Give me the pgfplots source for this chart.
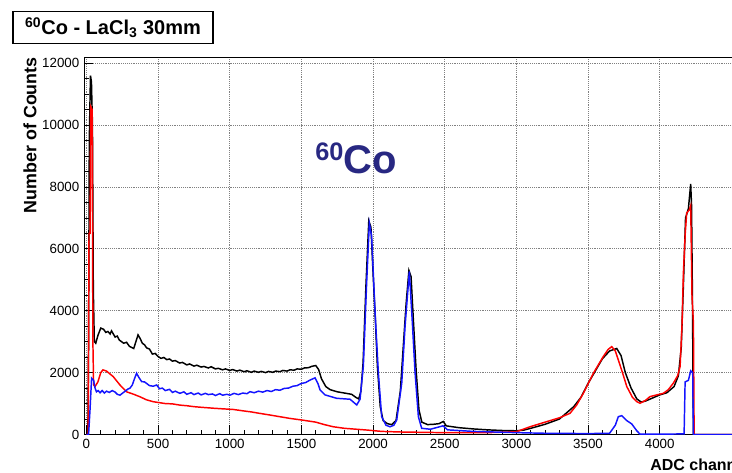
\documentclass[border=0pt]{standalone}
\usepackage{fontspec}
\setmainfont{Liberation Sans}
\usepackage{pgfplots}
\pgfplotsset{compat=1.18}
\definecolor{rootred}{RGB}{255,0,0}
\definecolor{rootblue}{RGB}{20,20,255}
\definecolor{navy}{RGB}{40,40,130}
\begin{document}
\begin{tikzpicture}
\begin{axis}[
  scale only axis, width=496.3pt, height=283.1pt,
  xmin=-17, xmax=4600, ymin=0, ymax=12200,
  xtick={0,500,...,4000}, ytick={0,2000,...,12000},
  minor x tick num=4, minor y tick num=3,
  tick align=inside, xtick pos=lower, ytick pos=left,
  major tick length=7pt, minor tick length=3.5pt,
  every tick/.style={black, line width=0.6pt},
  grid=major, grid style={densely dotted, gray, line width=0.6pt},
  axis line style={black, line width=0.7pt},
  scaled ticks=false,
  /pgf/number format/assume math mode=true,
  /pgf/number format/1000 sep={},
  tick label style={font=\fontsize{10}{11}\selectfont},
  xlabel={ADC channels},
  xlabel style={at={(axis description cs:0.8554,-0.0954)}, anchor=base west, inner sep=0pt, font=\fontsize{12}{13}\selectfont\bfseries},
  ylabel={Number of Counts},
  ylabel style={at={(axis description cs:-0.0816,1)}, anchor=east, inner sep=0pt, font=\fontsize{13.4}{14}\selectfont\bfseries},
]
\addplot[black, line width=1.1pt] coordinates {
(0,0)(10,0)(15,3000)(20,9500)(28,11600)(35,11400)(42,10000)(48,4700)(55,3000)(65,2950)
(80,3200)(100,3440)(120,3400)(135,3300)(150,3330)(165,3250)(175,3350)(200,3150)(215,3180)(230,3050)(260,2950)(280,2980)(300,2850)
(330,2780)(345,3000)(360,3220)(375,3100)(390,2950)(405,2900)(420,2800)(440,2760)(460,2600)(480,2620)
(500,2520)(520,2460)(540,2490)(560,2420)(580,2440)(600,2370)(620,2390)(650,2310)(670,2330)
(700,2250)(720,2280)(750,2210)(770,2240)(800,2180)(820,2200)(850,2150)(870,2190)(900,2120)
(920,2140)(950,2090)(970,2120)(1000,2070)(1020,2100)(1050,2050)(1070,2080)(1100,2030)
(1120,2060)(1150,2010)(1170,2050)(1200,2010)(1220,2040)(1250,2000)(1270,2040)(1300,2010)
(1320,2050)(1350,2030)(1370,2070)(1400,2050)(1420,2090)(1450,2080)(1470,2120)(1500,2110)
(1520,2150)(1550,2160)(1570,2200)(1600,2230)(1620,2100)(1640,1800)(1670,1550)(1700,1450)
(1750,1380)(1800,1340)(1850,1300)(1880,1200)(1900,1150)(1915,1400)(1930,2300)(1950,4800)
(1970,6900)(1985,6700)(2000,5200)(2015,3800)(2030,2200)(2050,900)(2070,450)(2100,350)
(2130,320)(2160,450)(2190,1400)(2210,2800)(2230,4200)(2250,5300)(2265,5100)(2280,3800)
(2300,2100)(2320,800)(2340,400)(2380,320)(2420,330)(2460,350)(2490,420)(2510,280)(2600,220)
(2700,180)(2800,150)(2900,130)(3000,120)(3050,140)(3100,200)(3200,330)(3300,500)(3400,900)
(3450,1200)(3500,1650)(3550,2050)(3600,2450)(3650,2700)(3700,2780)(3730,2550)(3760,2000)
(3800,1500)(3840,1150)(3870,1050)(3900,1080)(3950,1180)(4000,1280)(4050,1350)(4100,1550)
(4130,1900)(4150,2800)(4165,4800)(4180,7000)(4200,7300)(4216,8100)(4222,7400)(4228,4500)
(4235,0)(4600,0)
};
\addplot[rootred, line width=1.1pt] coordinates {
(0,0)(12,0)(18,6500)(25,6500)(30,10600)(40,10500)(45,3000)(50,1600)(60,1550)(80,1700)
(100,2000)(115,2090)(140,2050)(187,1870)(234,1600)(280,1380)(330,1300)(373,1220)(420,1120)
(466,1060)(550,1000)(600,990)(652,950)(700,930)(750,900)(800,880)(885,850)(950,830)(1023,810)(1100,760)(1150,730)(1200,690)(1280,630)(1350,575)
(1420,520)(1500,470)(1600,400)(1660,320)(1723,250)(1800,200)(1955,145)(2060,100)(2200,80)(2500,60)(2800,60)
(3000,90)(3095,250)(3211,415)(3300,540)(3374,685)(3420,950)(3467,1330)(3537,1980)(3606,2520)
(3640,2750)(3665,2840)(3690,2700)(3711,2410)(3740,2000)(3770,1550)(3810,1200)(3840,1060)
(3862,1010)(3900,1100)(3932,1225)(3980,1280)(4025,1330)(4060,1450)(4095,1660)(4125,1900)
(4142,2195)(4155,3500)(4165,5220)(4178,6500)(4188,7160)(4205,7250)(4216,7400)(4225,4500)
(4235,3600)(4240,0)(4600,0)
};
\addplot[rootblue, line width=1.1pt] coordinates {
(0,0)(15,0)(25,800)(36,1820)(50,1750)(60,1500)(70,1380)(82,1420)(95,1350)(110,1420)(125,1340)
(140,1400)(160,1360)(180,1420)(200,1370)(215,1300)(234,1270)(250,1330)(270,1400)(290,1470)
(304,1500)(320,1600)(335,1800)(350,1980)(365,1850)(385,1710)(405,1700)(420,1650)
(440,1580)(466,1560)(490,1600)(510,1480)(530,1500)(550,1420)(580,1460)(600,1360)(620,1400)
(652,1330)(680,1380)(700,1300)(730,1350)(750,1290)(780,1340)(800,1280)(830,1330)(850,1290)
(880,1310)(900,1260)(930,1320)(950,1270)(980,1300)(1001,1270)(1030,1330)(1060,1290)(1090,1340)
(1120,1320)(1141,1385)(1170,1350)(1200,1400)(1230,1370)(1260,1420)(1290,1390)(1320,1450)
(1350,1430)(1380,1490)(1410,1500)(1440,1560)(1470,1580)(1500,1650)(1530,1680)(1560,1760)
(1595,1830)(1615,1650)(1630,1440)(1665,1280)
(1746,1170)(1839,1140)(1886,955)(1909,1140)(1932,2200)(1955,4890)(1974,6830)(1990,6400)
(2013,4030)(2037,1980)(2060,576)(2090,300)(2118,250)(2145,300)(2165,470)(2200,1660)
(2223,3490)(2253,5270)(2274,3600)(2293,1990)(2316,576)(2339,200)(2400,170)(2488,280)
(2520,150)(2700,100)(3000,60)(3200,40)(3500,30)(3650,40)(3690,300)(3711,575)(3735,610)
(3770,450)(3805,340)(3840,120)(3862,15)(4000,10)(4170,20)(4177,1700)(4200,1750)(4216,2060)
(4230,2000)(4235,0)(4600,0)
};
\coordinate (O) at (rel axis cs:0,0);
\end{axis}
\node[draw=black, line width=0.8pt, minimum width=150pt, minimum height=23.7pt, inner sep=0pt,
  font=\fontsize{15}{15}\selectfont\bfseries] at ([shift={(21.75pt,305.25pt)}]O)
  {\textsuperscript{60}Co - LaCl\textsubscript{3} 30mm};
\node[anchor=base west, inner sep=0pt, text=navy, font=\fontsize{30}{30}\selectfont\bfseries]
  at ([shift={(173.25pt,195.75pt)}]O) {\raisebox{10pt}{\fontsize{19}{19}\selectfont 60}Co};
\pgfresetboundingbox
\path[use as bounding box] ([shift={(-63pt,-28.125pt)}]O) rectangle ([shift={(486pt,325.875pt)}]O);
\end{tikzpicture}
\end{document}
